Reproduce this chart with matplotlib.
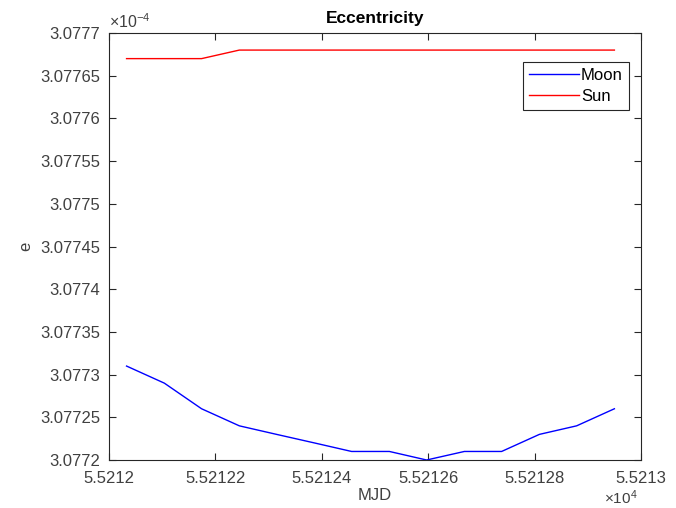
import matplotlib
matplotlib.use("Agg")
import matplotlib.pyplot as plt
from matplotlib.ticker import FuncFormatter, MultipleLocator

plt.rcParams['font.family'] = ['Liberation Sans', 'DejaVu Sans']
plt.rcParams['mathtext.fontset'] = 'custom'
plt.rcParams['mathtext.rm'] = 'Liberation Sans'
plt.rcParams['mathtext.it'] = 'Liberation Sans'

# Epochs (MJD) and eccentricity values
mjd = [55212.033, 55212.104, 55212.174, 55212.245, 55212.315, 55212.386,
       55212.456, 55212.527, 55212.597, 55212.668, 55212.738, 55212.809,
       55212.879, 55212.950]
moon_e = [3.07731e-4, 3.07729e-4, 3.07726e-4, 3.07724e-4, 3.07723e-4, 3.07722e-4,
          3.07721e-4, 3.07721e-4, 3.07720e-4, 3.07721e-4, 3.07721e-4, 3.07723e-4,
          3.07724e-4, 3.07726e-4]
sun_e = [3.07767e-4, 3.07767e-4, 3.07767e-4, 3.07768e-4, 3.07768e-4, 3.07768e-4,
         3.07768e-4, 3.07768e-4, 3.07768e-4, 3.07768e-4, 3.07768e-4, 3.07768e-4,
         3.07768e-4, 3.07768e-4]
series_names = ["Moon", "Sun"]

ink = '#262626'
label_ink = '#404040'
fig = plt.figure(figsize=(6.76, 5.08), dpi=100)
ax = fig.add_axes([109/676, 48/508, 532/676, 427/508])

ax.plot(mjd, moon_e, color='#0000ff', lw=1.0, label=series_names[0])
ax.plot(mjd, sun_e, color='#ff0000', lw=1.0, label=series_names[1])

ax.set_xlim(55212, 55213)
ax.set_ylim(3.0772e-4, 3.0777e-4)
ax.xaxis.set_major_locator(MultipleLocator(0.2))
ax.yaxis.set_major_locator(MultipleLocator(0.5e-8))
ax.xaxis.set_major_formatter(FuncFormatter(lambda v, p: f"{v/1e4:.6g}"))
ax.yaxis.set_major_formatter(FuncFormatter(lambda v, p: f"{v*1e4:.6g}"))

ax.tick_params(direction='in', length=5, width=0.8, colors=ink,
               labelsize=12, top=True, right=True, labelcolor=label_ink)
ax.tick_params(axis='x', pad=8)
ax.tick_params(axis='y', pad=6.5)
for s in ax.spines.values():
    s.set_color(ink)
    s.set_linewidth(0.8)

ax.set_title("Eccentricity", fontsize=12.5, fontweight='bold', color='black', pad=7)
ax.set_xlabel("MJD", fontsize=12, color=label_ink, labelpad=1)
ax.set_ylabel("e", fontsize=12, color=label_ink, labelpad=5)

# exponent multipliers for the scaled tick labels
ax.text(0.0, 1.005, r"$\times10^{-4}$", transform=ax.transAxes, fontsize=11.5,
        color=label_ink, ha='left', va='bottom')
fig.text(638/676, 1/508, r"$\times10^{4}$", fontsize=11,
         color=label_ink, ha='right', va='bottom')

leg = ax.legend(loc='upper right', bbox_to_anchor=(0.977, 0.932), borderaxespad=0,
                fontsize=12, handlelength=3.0, handletextpad=0.15,
                labelspacing=0.35, borderpad=0.35, fancybox=False, framealpha=1)
leg.get_frame().set_edgecolor(ink)
leg.get_frame().set_linewidth(0.8)

fig.savefig("out.png", dpi=100)
